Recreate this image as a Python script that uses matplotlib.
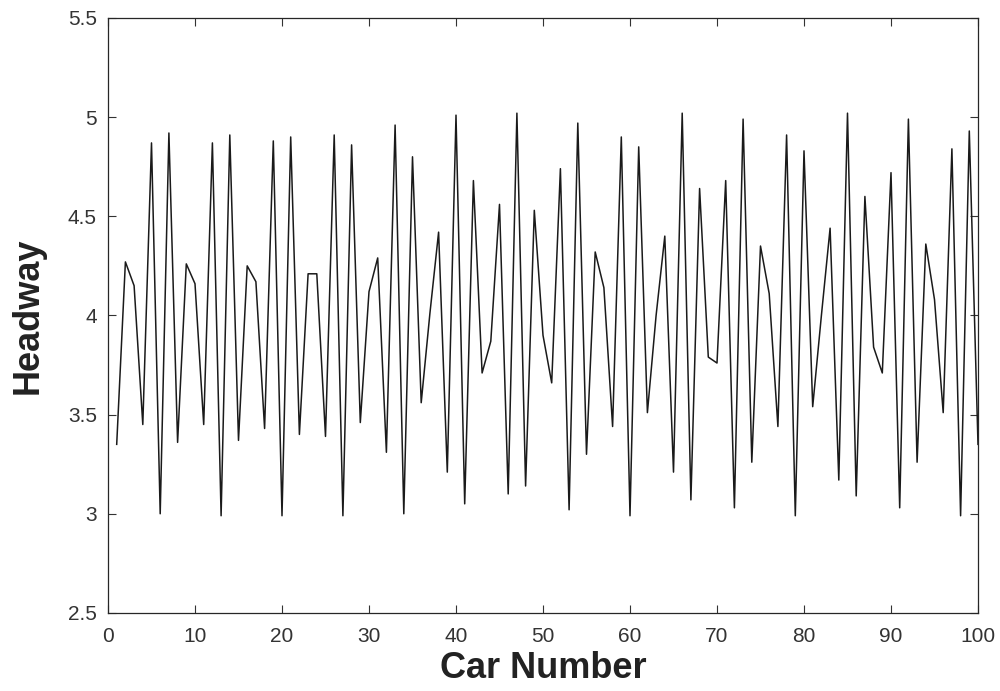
import numpy as np
import matplotlib
matplotlib.use("Agg")
import matplotlib.pyplot as plt
from matplotlib.ticker import FormatStrFormatter

# headway of each car
car_number = np.arange(1, 101)
headway = [
    3.35, 4.27, 4.15, 3.45, 4.87, 3.00, 4.92, 3.36, 4.26, 4.16,
    3.45, 4.87, 2.99, 4.91, 3.37, 4.25, 4.17, 3.43, 4.88, 2.99,
    4.90, 3.40, 4.21, 4.21, 3.39, 4.91, 2.99, 4.86, 3.46, 4.12,
    4.29, 3.31, 4.96, 3.00, 4.80, 3.56, 4.01, 4.42, 3.21, 5.01,
    3.05, 4.68, 3.71, 3.87, 4.56, 3.10, 5.02, 3.14, 4.53, 3.90,
    3.66, 4.74, 3.02, 4.97, 3.30, 4.32, 4.14, 3.44, 4.90, 2.99,
    4.85, 3.51, 4.00, 4.40, 3.21, 5.02, 3.07, 4.64, 3.79, 3.76,
    4.68, 3.03, 4.99, 3.26, 4.35, 4.11, 3.44, 4.91, 2.99, 4.83,
    3.54, 4.00, 4.44, 3.17, 5.02, 3.09, 4.60, 3.84, 3.71, 4.72,
    3.03, 4.99, 3.26, 4.36, 4.08, 3.51, 4.84, 2.99, 4.93, 3.35,
]
x_ticks = np.arange(0, 101, 10)
y_ticks = [2.5, 3, 3.5, 4, 4.5, 5, 5.5]

plt.rcParams['font.family'] = ['Liberation Sans', 'DejaVu Sans']

fig = plt.figure(figsize=(10, 6.91), dpi=100)
ax = fig.add_axes([0.108, 0.113, 0.870, 0.861])
ax.plot(car_number, headway, color='#1a1a1a', linewidth=1.1)

ax.set_xlim(0, 100)
ax.set_ylim(2.5, 5.5)
ax.set_xticks(x_ticks)
ax.set_yticks(y_ticks)
ax.yaxis.set_major_formatter(FormatStrFormatter('%g'))
ax.tick_params(direction='in', top=True, right=True, length=6, width=0.8,
               labelsize=15, colors='#333333')
ax.tick_params(axis='x', pad=10)
ax.tick_params(axis='y', pad=8)
for s in ax.spines.values():
    s.set_linewidth(0.9)
    s.set_color('#262626')

ax.set_xlabel('Car Number', fontsize=26, fontweight='bold', labelpad=4,
              color='#222222')
ax.set_ylabel('Headway', fontsize=26, fontweight='bold', labelpad=16,
              color='#222222')

fig.savefig('out.png', dpi=100)
